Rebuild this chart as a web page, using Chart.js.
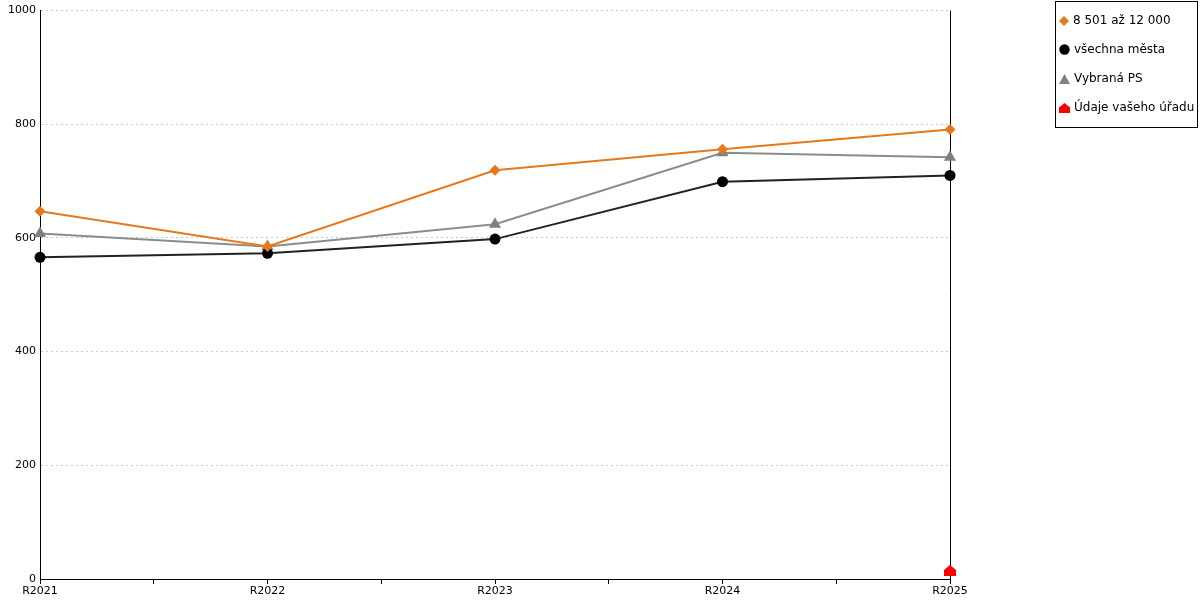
<!DOCTYPE html>
<html>
<head>
<meta charset="utf-8">
<script src="https://cdn.jsdelivr.net/npm/chart.js@4/dist/chart.umd.min.js"></script>
<style>
  body { margin: 0; background: #fff; font-family: "DejaVu Sans", sans-serif; }
  #wrap { position: relative; width: 1200px; height: 600px; }
  #legend { position: absolute; left: 1055px; top: 1px; width: 141px; height: 125px;
            border: 1px solid #000; font-size: 12px; color: #000; }
  #legend div { position: absolute; left: 3px; height: 14px; line-height: 14px; white-space: nowrap; }
  #legend svg { vertical-align: -2px; margin-right: 4px; }
</style>
</head>
<body>
<div id="wrap">
  <canvas id="myChart" width="1200" height="600"></canvas>
  <div id="legend"></div>
</div>
<script>
const categories = ['R2021', 'R2022', 'R2023', 'R2024', 'R2025'];
const mesta8501 = [647, 585, 719, 756, 791];
const vsechnaMesta = [566, 573, 598, 699, 710];
const vybranaPS = [608, 585, 624, 750, 742];
const udajeUradu = [null, null, null, null, 15];
const yTicks = [0, 200, 400, 600, 800, 1000];

// house shaped marker for own office data
const house = document.createElement('canvas');
house.width = 12; house.height = 11;
(function () {
    const c = house.getContext('2d');
    c.fillStyle = '#ff0000';
    c.beginPath();
    c.moveTo(6, 0); c.lineTo(12, 5); c.lineTo(12, 11); c.lineTo(0, 11); c.lineTo(0, 5);
    c.closePath(); c.fill();
})();

const toPts = arr => arr.map((v, i) => ({ x: i, y: v })).filter(p => p.y !== null);

const ctx = document.getElementById('myChart').getContext('2d');
const chart = new Chart(ctx, {
    type: 'line',
    data: {
        datasets: [{
            label: '8 501 až 12 000',
            data: toPts(mesta8501),
            borderColor: '#e6781e',
            backgroundColor: '#e6781e',
            pointStyle: 'rectRot',
            pointRadius: 5.5
        }, {
            label: 'všechna města',
            data: toPts(vsechnaMesta),
            borderColor: '#222222',
            backgroundColor: '#000000',
            pointStyle: 'circle',
            pointRadius: 5.5
        }, {
            label: 'Vybraná PS',
            data: toPts(vybranaPS),
            borderColor: '#8c8c8c',
            backgroundColor: '#808080',
            pointStyle: 'triangle',
            pointRadius: 7
        }, {
            label: 'Údaje vašeho úřadu',
            data: toPts(udajeUradu),
            borderColor: '#ff0000',
            backgroundColor: '#ff0000',
            pointStyle: house,
            showLine: false
        }]
    },
    options: {
        responsive: false,
        animation: false,
        layout: { padding: { top: 10, right: 250, left: 0, bottom: 0 } },
        datasets: { line: { clip: false } },
        elements: { line: { borderWidth: 2, tension: 0 }, point: { borderWidth: 0, hoverRadius: 6 } },
        plugins: { legend: { display: false }, tooltip: { enabled: false } },
        scales: {
            x: {
                type: 'linear',
                min: 0,
                max: categories.length - 1,
                afterBuildTicks: s => {
                    s.ticks = [];
                    for (let v = 0; v <= categories.length - 1; v += 0.5) s.ticks.push({ value: v });
                },
                afterFit: s => { s.height = 21; },
                ticks: {
                    color: '#000',
                    font: { family: 'DejaVu Sans', size: 11 },
                    padding: 1,
                    maxRotation: 0,
                    autoSkip: false,
                    callback: v => Number.isInteger(v) ? categories[v] : ''
                },
                grid: {
                    color: c => (c.tick && c.tick.value === categories.length - 1) ? '#000' : 'rgba(0,0,0,0)',
                    tickColor: '#000',
                    tickLength: 5,
                    lineWidth: 1
                },
                border: { color: '#000', width: 1 }
            },
            y: {
                min: 0,
                max: 1000,
                afterBuildTicks: s => { s.ticks = yTicks.map(v => ({ value: v })); },
                afterFit: s => { s.width = 40; },
                ticks: {
                    color: '#000',
                    font: { family: 'DejaVu Sans', size: 11 },
                    padding: 4,
                    callback: v => String(v)
                },
                grid: {
                    color: c => c.tick && c.tick.value === 0 ? 'rgba(0,0,0,0)' : '#c8c8c8',
                    drawTicks: false,
                    lineWidth: 1
                },
                border: { color: '#000', width: 1, dash: [2, 3] }
            }
        }
    }
});

// HTML legend
const icons = [
    '<svg width="10" height="10"><polygon points="5,0 10,5 5,10 0,5" fill="#e6781e"/></svg>',
    '<svg width="11" height="11"><circle cx="5.5" cy="5.5" r="5.2" fill="#000"/></svg>',
    '<svg width="11" height="10"><polygon points="5.5,0 11,10 0,10" fill="#808080"/></svg>',
    '<svg width="11" height="10"><polygon points="5.5,0 11,4.5 11,10 0,10 0,4.5" fill="#ff0000"/></svg>'
];
const legendEl = document.getElementById('legend');
chart.data.datasets.forEach((ds, i) => {
    const d = document.createElement('div');
    d.style.top = (11 + i * 29) + 'px';
    d.innerHTML = icons[i] + ds.label;
    legendEl.appendChild(d);
});
</script>
</body>
</html>
